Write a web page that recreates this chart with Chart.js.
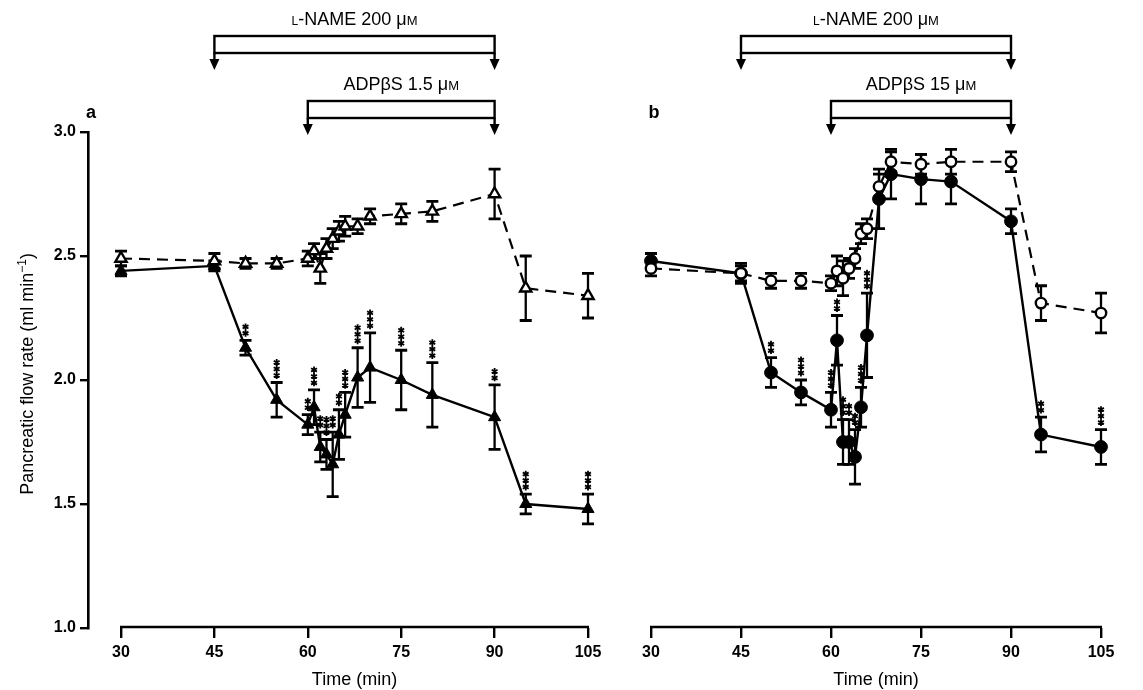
<!DOCTYPE html>
<html lang="en">
  <head>
    <meta charset="UTF-8" />
    <title>Pancreatic flow rate</title>
    <script src="https://cdn.jsdelivr.net/npm/chart.js@4"></script>
    <style>
      html, body { margin: 0; padding: 0; background: #fff; }
      body { width: 1143px; height: 690px; position: relative; overflow: hidden; }
      canvas { position: absolute; top: 0; }
    </style>
  </head>
  <body>
    <canvas id="chartA" width="610" height="690" style="left:0px"></canvas>
    <canvas id="chartB" width="523" height="690" style="left:620px"></canvas>
    <script>
      const FONT = '"Liberation Sans", Arial, Helvetica, sans-serif';

      // sampling times (min), same for every series
      const minutes = [30, 45, 50, 55, 60, 61, 62, 63, 64, 65, 66, 68, 70, 75, 80, 90, 95, 105];
      const xTicks = [30, 45, 60, 75, 90, 105];
      const yTicks = [1.0, 1.5, 2.0, 2.5, 3.0];

      // drug windows (min)
      const lNameWindow = [45, 90];
      const adpWindow = [60, 90];

      // panel a: open triangles (L-NAME), filled triangles (L-NAME + ADPbS 1.5 uM)
      const aOpen = [2.49, 2.48, 2.47, 2.47, 2.49, 2.52, 2.45, 2.53, 2.57, 2.60, 2.62, 2.62, 2.66, 2.67, 2.68, 2.75, 2.37, 2.34];
      const aOpenSem = [0.03, 0.03, 0.02, 0.02, 0.03, 0.03, 0.06, 0.04, 0.04, 0.04, 0.04, 0.03, 0.03, 0.04, 0.04, 0.10, 0.13, 0.09];
      const aFilled = [2.44, 2.46, 2.13, 1.92, 1.82, 1.89, 1.73, 1.70, 1.66, 1.78, 1.86, 2.01, 2.05, 2.00, 1.94, 1.85, 1.50, 1.48];
      const aFilledSem = [0.02, 0.02, 0.03, 0.07, 0.04, 0.07, 0.06, 0.06, 0.13, 0.10, 0.09, 0.12, 0.14, 0.12, 0.13, 0.13, 0.04, 0.06];
      const aStars = [0, 0, 2, 3, 2, 3, 2, 3, 2, 2, 3, 3, 3, 3, 3, 2, 3, 3];

      // panel b: open circles (L-NAME), filled circles (L-NAME + ADPbS 15 uM)
      const bOpen = [2.45, 2.43, 2.40, 2.40, 2.39, 2.44, 2.41, 2.45, 2.49, 2.59, 2.61, 2.78, 2.88, 2.87, 2.88, 2.88, 2.31, 2.27];
      const bOpenSem = [0.03, 0.03, 0.03, 0.03, 0.03, 0.06, 0.07, 0.04, 0.04, 0.04, 0.04, 0.05, 0.04, 0.04, 0.05, 0.04, 0.07, 0.08];
      const bFilled = [2.48, 2.43, 2.03, 1.95, 1.88, 2.16, 1.75, 1.75, 1.69, 1.89, 2.18, 2.73, 2.83, 2.81, 2.80, 2.64, 1.78, 1.73];
      const bFilledSem = [0.03, 0.04, 0.06, 0.05, 0.07, 0.10, 0.09, 0.09, 0.11, 0.08, 0.17, 0.12, 0.10, 0.10, 0.09, 0.05, 0.07, 0.07];
      const bStars = [0, 0, 2, 3, 3, 2, 3, 2, 2, 3, 3, 0, 0, 0, 0, 0, 2, 3];

      function drawStar(ctx, x, y) {
        ctx.lineWidth = 1.8;
        ctx.beginPath();
        for (let a = 0; a < 3; a++) {
          const t = Math.PI / 2 + (a * Math.PI) / 3;
          ctx.moveTo(x + Math.cos(t) * 3.4, y + Math.sin(t) * 3.4);
          ctx.lineTo(x - Math.cos(t) * 3.4, y - Math.sin(t) * 3.4);
        }
        ctx.stroke();
      }

      // mixed size text, for the small capitals
      function drawPieces(ctx, pieces, cx, baseline) {
        let w = 0;
        pieces.forEach(([t, s]) => { ctx.font = s + "px " + FONT; w += ctx.measureText(t).width; });
        let x = cx - w / 2;
        ctx.textAlign = "left";
        ctx.textBaseline = "alphabetic";
        pieces.forEach(([t, s]) => {
          ctx.font = s + "px " + FONT;
          ctx.fillText(t, x, baseline);
          x += ctx.measureText(t).width;
        });
      }

      const errorBars = {
        id: "errorBars",
        beforeDatasetsDraw(chart) {
          const ctx = chart.ctx, ys = chart.scales.y;
          ctx.save();
          ctx.strokeStyle = "#000";
          chart.data.datasets.forEach((ds, i) => {
            chart.getDatasetMeta(i).data.forEach((pt, j) => {
              const v = ds.data[j].y, e = ds.sem[j];
              const top = ys.getPixelForValue(v + e), bot = ys.getPixelForValue(v - e);
              ctx.lineWidth = 2.3;
              ctx.beginPath();
              ctx.moveTo(pt.x, top); ctx.lineTo(pt.x, bot);
              ctx.stroke();
              ctx.lineWidth = 2.8;
              ctx.beginPath();
              ctx.moveTo(pt.x - 6, top); ctx.lineTo(pt.x + 6, top);
              ctx.moveTo(pt.x - 6, bot); ctx.lineTo(pt.x + 6, bot);
              ctx.stroke();
              const n = ds.stars ? ds.stars[j] : 0;
              for (let k = 0; k < n; k++) drawStar(ctx, pt.x, top - 7 - k * 6.5);
            });
          });
          ctx.restore();
        },
      };

      const panelDecor = {
        id: "panelDecor",
        afterDraw(chart, args, opts) {
          const ctx = chart.ctx, xs = chart.scales.x, area = chart.chartArea;
          const x30 = xs.getPixelForValue(30), x105 = xs.getPixelForValue(105);
          ctx.save();
          ctx.strokeStyle = "#000";
          ctx.fillStyle = "#000";

          // x axis line only over the data range
          ctx.lineWidth = 2.6;
          ctx.beginPath();
          ctx.moveTo(x30 - 1, area.bottom - 1); ctx.lineTo(x105 + 1, area.bottom - 1);
          ctx.stroke();

          ctx.font = "18px " + FONT;
          ctx.textAlign = "center";
          ctx.textBaseline = "middle";
          ctx.fillText("Time (min)", (x30 + x105) / 2, 680);

          if (opts.yTitle) {
            ctx.save();
            ctx.translate(27, 374);
            ctx.rotate(-Math.PI / 2);
            const main = "Pancreatic flow rate (ml min", sup = "\u22121", end = ")";
            ctx.font = "18px " + FONT;
            const w1 = ctx.measureText(main).width, w3 = ctx.measureText(end).width;
            ctx.font = "12px " + FONT;
            const w2 = ctx.measureText(sup).width;
            let x = -(w1 + w2 + w3) / 2;
            ctx.textAlign = "left";
            ctx.textBaseline = "alphabetic";
            ctx.font = "18px " + FONT;
            ctx.fillText(main, x, 6);
            ctx.font = "12px " + FONT;
            ctx.fillText(sup, x + w1, -1);
            ctx.font = "18px " + FONT;
            ctx.fillText(end, x + w1 + w2, 6);
            ctx.restore();
          }

          ctx.font = "bold 18px " + FONT;
          ctx.textAlign = "center";
          ctx.textBaseline = "middle";
          ctx.fillText(opts.letter, area.left + 3, 113);

          opts.bars.forEach((b) => {
            const x1 = xs.getPixelForValue(b.win[0]), x2 = xs.getPixelForValue(b.win[1]);
            ctx.lineWidth = 2.4;
            ctx.strokeRect(x1, b.top, x2 - x1, b.h);
            [x1, x2].forEach((px) => {
              ctx.beginPath();
              ctx.moveTo(px, b.top + b.h); ctx.lineTo(px, b.tip - 8);
              ctx.stroke();
              ctx.beginPath();
              ctx.moveTo(px - 5, b.tip - 11); ctx.lineTo(px + 5, b.tip - 11); ctx.lineTo(px, b.tip);
              ctx.closePath();
              ctx.fill();
            });
            drawPieces(ctx, b.label, (x1 + x2) / 2, b.textBase);
          });
          ctx.restore();
        },
      };

      function panelConfig(p) {
        const open = {
          data: minutes.map((m, i) => ({ x: m, y: p.open[i] })),
          sem: p.openSem,
          stars: null,
          borderColor: "#000",
          borderWidth: 2.2,
          borderDash: [11, 7],
          pointStyle: p.marker,
          pointRadius: p.marker === "triangle" ? 6.5 : 5.2,
          pointBackgroundColor: "#fff",
          pointBorderColor: "#000",
          pointBorderWidth: 2.4,
          tension: 0,
          clip: false,
        };
        const filled = {
          data: minutes.map((m, i) => ({ x: m, y: p.filled[i] })),
          sem: p.filledSem,
          stars: p.stars,
          borderColor: "#000",
          borderWidth: 2.4,
          pointStyle: p.marker,
          pointRadius: p.marker === "triangle" ? 7 : 6.4,
          pointBackgroundColor: "#000",
          pointBorderColor: "#000",
          pointBorderWidth: 1,
          tension: 0,
          clip: false,
        };
        return {
          type: "line",
          data: { datasets: [open, filled] },
          options: {
            responsive: false,
            animation: false,
            devicePixelRatio: 1,
            layout: { padding: p.padding },
            plugins: {
              legend: { display: false },
              tooltip: { enabled: false },
              panelDecor: { letter: p.letter, yTitle: p.showY, bars: p.bars },
            },
            scales: {
              x: {
                type: "linear",
                min: p.xMin,
                max: 105,
                afterBuildTicks: (s) => { s.ticks = xTicks.map((v) => ({ value: v })); },
                afterFit: (s) => { s.height = 62; },
                grid: { drawOnChartArea: false, drawTicks: true, tickLength: 10, color: "#000", lineWidth: 2.4 },
                border: { display: false },
                ticks: { color: "#000", font: { family: FONT, size: 16, weight: "bold" }, padding: 5, maxRotation: 0, autoSkip: false },
              },
              y: {
                display: p.showY,
                min: 1,
                max: 3,
                afterBuildTicks: (s) => { s.ticks = yTicks.map((v) => ({ value: v })); },
                afterFit: (s) => { s.width = p.showY ? 88 : 0; },
                grid: { drawOnChartArea: false, tickLength: 8, color: "#000", lineWidth: 2.4 },
                border: { display: true, color: "#000", width: 2.6 },
                ticks: { color: "#000", font: { family: FONT, size: 16, weight: "bold" }, padding: 4, callback: (v) => v.toFixed(1) },
              },
            },
          },
          plugins: [errorBars, panelDecor],
        };
      }

      const lNameLabel = [["L", 12], ["-NAME 200 \u03bc", 18], ["M", 13]];

      new Chart(document.getElementById("chartA"), panelConfig({
        open: aOpen, openSem: aOpenSem, filled: aFilled, filledSem: aFilledSem, stars: aStars,
        marker: "triangle", letter: "a", showY: true, xMin: 24.7,
        padding: { top: 132, left: 0, right: 22, bottom: 0 },
        bars: [
          { win: lNameWindow, top: 36, h: 17, tip: 70, textBase: 25, label: lNameLabel },
          { win: adpWindow, top: 101, h: 17, tip: 135, textBase: 90, label: [["ADP\u03b2S 1.5 \u03bc", 18], ["M", 13]] },
        ],
      }));

      new Chart(document.getElementById("chartB"), panelConfig({
        open: bOpen, openSem: bOpenSem, filled: bFilled, filledSem: bFilledSem, stars: bStars,
        marker: "circle", letter: "b", showY: false, xMin: 30,
        padding: { top: 132, left: 31, right: 42, bottom: 0 },
        bars: [
          { win: lNameWindow, top: 36, h: 17, tip: 70, textBase: 25, label: lNameLabel },
          { win: adpWindow, top: 101, h: 17, tip: 135, textBase: 90, label: [["ADP\u03b2S 15 \u03bc", 18], ["M", 13]] },
        ],
      }));
    </script>
  </body>
</html>
